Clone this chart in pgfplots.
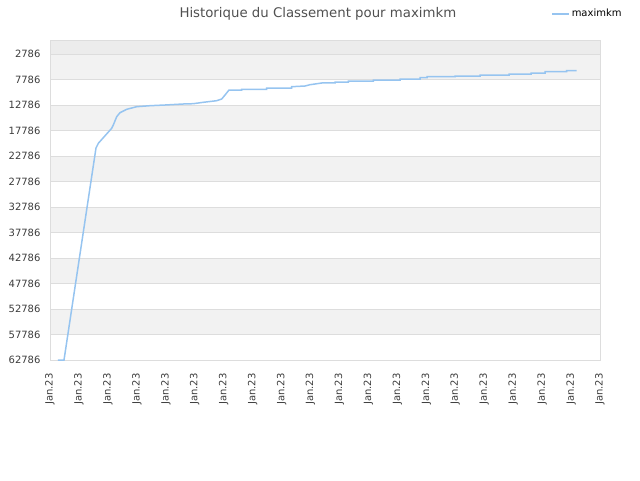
\documentclass[border=0pt]{standalone}
\usepackage{pgfplots}
\pgfplotsset{compat=1.18}
\usepackage{fontspec}
\setmainfont{DejaVu Sans}
\definecolor{serie}{RGB}{150,196,240}
\definecolor{bandgray}{RGB}{242,242,242}
\definecolor{topgray}{RGB}{236,236,236}
\definecolor{gridgray}{RGB}{221,221,221}
\definecolor{labelgray}{RGB}{60,60,60}
\definecolor{titlegray}{RGB}{80,80,80}

\pgfplotstableread{
x y
0.276 62786
0.484 62786
1.589 21217
1.669 20296
2.131 17355
2.187 16708
2.304 15080
2.418 14296
2.650 13629
2.995 13119
3.455 12923
3.973 12786
4.605 12590
4.950 12531
5.296 12257
5.759 11943
5.932 11610
6.046 10825
6.184 9845
6.623 9845
6.623 9708
7.486 9708
7.486 9453
8.350 9453
8.350 9198
8.809 9061
8.982 8806
9.155 8668
9.386 8472
9.846 8472
9.846 8276
10.305 8276
10.305 8080
11.169 8080
11.169 7884
12.091 7884
12.091 7688
12.782 7688
12.782 7433
13.024 7433
13.024 7237
13.991 7237
13.991 7100
14.855 7100
14.855 6904
15.857 6904
15.857 6708
16.617 6708
16.617 6512
17.100 6512
17.100 6257
17.850 6257
17.850 6060
18.195 6060
}\rang

\begin{document}
\begin{tikzpicture}
\path (0pt,0pt) rectangle (640pt,480pt);
\begin{axis}[
  at={(50pt,120pt)}, anchor=south west,
  scale only axis, width=550pt, height=320pt,
  set layers,
  xmin=0, xmax=19, ymin=41, ymax=62786, y dir=reverse,
  xtick={0,...,19}, xticklabel={Jan.23},
  ytick={2786,7786,...,62786},
  scaled y ticks=false,
  /pgf/number format/assume math mode=true,
  /pgf/number format/set thousands separator={},
  tick label style={font=\fontsize{10}{12}\selectfont, text=labelgray},
  xticklabel style={rotate=90, anchor=east},
  xticklabel shift=10pt,
  yticklabel style={xshift=-6pt},
  major tick length=0pt,
  ymajorgrids, grid style={draw=gridgray, line width=0.8pt},
  axis line style={draw=gridgray, line width=0.8pt},
  title={Historique du Classement pour maximkm},
  title style={at={(rel axis cs:0.487,1.0625)}, anchor=center, font=\fontsize{13.3}{15}\selectfont, text=titlegray},
  legend style={at={(rel axis cs:0.911,1.082)}, anchor=west, draw=none, fill=none, font=\fontsize{10}{12}\selectfont, inner sep=0pt},
  legend image code/.code={\path (0pt,0pt) -- (17pt,0pt); \draw[#1] (0pt,0pt) -- (11pt,0pt);},
]
\begin{pgfonlayer}{axis background}
\fill[topgray] (axis cs:0,41) rectangle (axis cs:19,2786);
\fill[bandgray] (axis cs:0,2786) rectangle (axis cs:19,7786);
\fill[bandgray] (axis cs:0,12786) rectangle (axis cs:19,17786);
\fill[bandgray] (axis cs:0,22786) rectangle (axis cs:19,27786);
\fill[bandgray] (axis cs:0,32786) rectangle (axis cs:19,37786);
\fill[bandgray] (axis cs:0,42786) rectangle (axis cs:19,47786);
\fill[bandgray] (axis cs:0,52786) rectangle (axis cs:19,57786);
\end{pgfonlayer}
\addplot[serie, line width=1.5pt] table {\rang};
\addlegendentry{maximkm}
\end{axis}
\end{tikzpicture}
\end{document}
